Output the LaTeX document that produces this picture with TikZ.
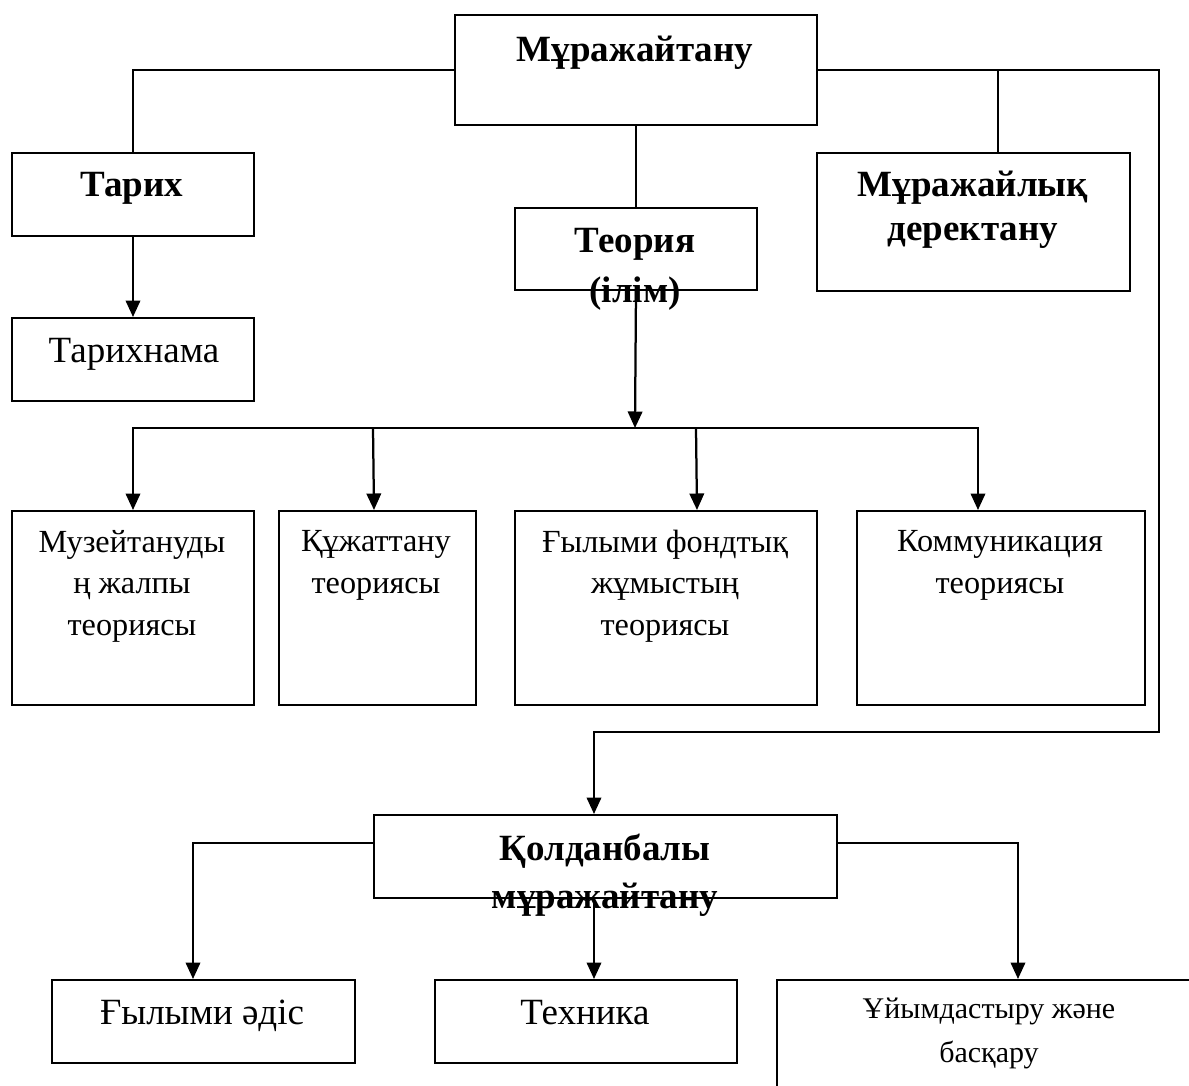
\documentclass[tikz,border=0pt]{standalone}
\usepackage{fontspec}
\setmainfont{Liberation Serif}
\usetikzlibrary{arrows.meta}

\tikzset{
	box/.style 2 args={draw,line width=0.8pt,anchor=north west,inner sep=0pt,minimum width=#1*0.4pt,minimum height=#2*0.4pt},
	lbl/.style={anchor=base,inner sep=0pt,align=center},
	head/.style={lbl,font=\bfseries\fontsize{14.8}{#1}\selectfont},
	head/.default=18pt,
	txt/.style={lbl,font=\fontsize{12.9}{16.6}\selectfont},
	txtl/.style={lbl,font=\fontsize{14.8}{18}\selectfont},
	link/.style={line width=0.9pt},
	arr/.style={link,-{Triangle[length=6.6pt,width=5.8pt]}}
}

\begin{document}
\begin{tikzpicture}[x=0.4pt,y=-0.4pt]
		\path[use as bounding box,clip] (0,0) rectangle (1189,1086);
		% upper level
		\node[box={362}{110}] (muz) at (454,14) {};
		\node[head] (muz-t) at (635,61) {Мұражайтану};
		\node[box={242}{83}] (tarix) at (11,152) {};
		\node[head] (tarix-t) at (132,197) {Тарих};
		\node[box={242}{83}] (tnama) at (11,317) {};
		\node[txtl] (tnama-t) at (134,362) {Тарихнама};
		\node[box={242}{82}] (teor) at (514,207) {};
		\node[head=20pt] (teor-t) at (635,302) {Теория\\(ілім)};
		\node[box={313}{138}] (derek) at (816,152) {};
		\node[head=17.2pt] (derek-t) at (973,240) {Мұражайлық\\деректану};
		% theory branches
		\node[box={242}{194}] (jalpy) at (11,510) {};
		\node[txt] (jalpy-t) at (132,635) {Музейтануды\\ң жалпы\\теориясы};
		\node[box={197}{194}] (qujat) at (278,510) {};
		\node[txt] (qujat-t) at (376,593) {Құжаттану\\теориясы};
		\node[box={302}{194}] (fond) at (514,510) {};
		\node[txt] (fond-t) at (665,635) {Ғылыми фондтық\\жұмыстың\\теориясы};
		\node[box={288}{194}] (komm) at (856,510) {};
		\node[txt] (komm-t) at (1000,593) {Коммуникация\\теориясы};
		% applied part
		\node[box={463}{83}] (qold) at (373,814) {};
		\node[head=19.2pt] (qold-t) at (605,908) {Қолданбалы\\мұражайтану};
		\node[box={303}{83}] (adis) at (51,979) {};
		\node[txtl] (adis-t) at (202,1024) {Ғылыми әдіс};
		\node[box={302}{83}] (tex) at (434,979) {};
		\node[txtl] (tex-t) at (585,1024) {Техника};
		\node[box={426}{150}] (uiym) at (776,979) {};
		\node[txt,font=\fontsize{12}{17.6}\selectfont] (uiym-t) at (989,1062) {Ұйымдастыру және\\басқару};

		\coordinate (bus) at (635,428);
		\coordinate (qin) at (594,814);
		\coordinate (qout) at (594,897);

		\draw[link] (muz.west) -| (tarix.north);
		\draw[link] (muz.east) -| ([xshift=9.8pt]derek.north);
		\draw[link] (muz.south) -- (teor.north);
		\draw[arr] (tarix.south) -- (tnama.north);
		\draw[arr] (muz.east) -| (1159,732) -| (qin);
		\draw[arr] (teor.south) -- (bus);
		\draw[arr] (bus) -| (jalpy.north);
		\draw[arr] (bus) -| ([xshift=-9.2pt]komm.north);
		\draw[arr] (bus -| 373,0) -- ([xshift=-1.4pt]qujat.north);
		\draw[arr] (bus -| 696,0) -- ([xshift=12.4pt]fond.north);
		\draw[arr] ([yshift=5.4pt]qold.west) -| ([xshift=-4.2pt]adis.north);
		\draw[arr] ([yshift=5.4pt]qold.east) -| ([xshift=11.2pt]uiym.north);
		\draw[arr] (qout) -- (qout |- tex.north);
\end{tikzpicture}
\end{document}
